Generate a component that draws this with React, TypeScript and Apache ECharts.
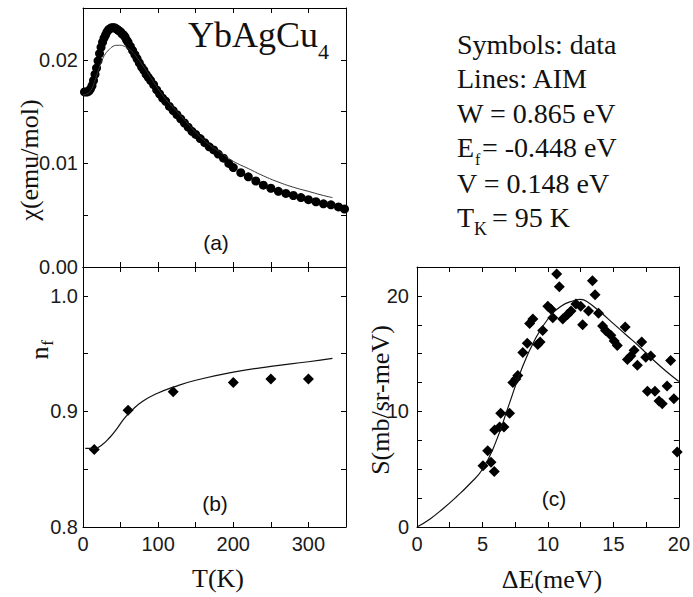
import React, { useEffect, useRef } from 'react';
import * as echarts from 'echarts';

// Panel (a): susceptibility data
const chiT = [2, 4, 6, 8, 10, 12, 14, 16, 18, 20, 22, 24, 26, 28, 30, 32, 34, 36, 38, 40, 42, 44, 46, 48, 50, 52, 54, 56, 58, 60, 63, 66, 69, 72, 75, 78, 81, 84, 87, 90, 94, 98, 102, 106, 110, 115, 120, 125, 130, 135, 140, 145, 150, 156, 162, 168, 174, 180, 187, 194, 200, 210, 220, 230, 240, 250, 260, 270, 280, 290, 300, 310, 320, 330, 340, 348];
const chiVal = [0.0169, 0.0169, 0.0169, 0.0170, 0.0172, 0.0175, 0.0180, 0.0186, 0.0192, 0.0199, 0.0206, 0.0212, 0.0217, 0.0221, 0.0224, 0.0227, 0.0229, 0.0230, 0.0231, 0.0231, 0.0231, 0.0230, 0.0229, 0.0228, 0.0227, 0.0225, 0.0224, 0.0222, 0.0219, 0.0217, 0.0213, 0.0209, 0.0205, 0.0201, 0.0197, 0.0193, 0.0190, 0.0186, 0.0183, 0.0180, 0.0176, 0.0171, 0.0167, 0.0163, 0.0160, 0.0155, 0.0151, 0.0147, 0.0143, 0.0139, 0.0135, 0.0131, 0.0128, 0.0124, 0.0120, 0.0116, 0.0113, 0.0109, 0.0105, 0.0100, 0.0096, 0.0091, 0.0087, 0.0083, 0.0079, 0.0076, 0.0073, 0.0071, 0.0069, 0.0067, 0.0065, 0.0063, 0.0061, 0.0060, 0.0058, 0.0056];
// Panel (a): AIM line
const chiLineT = [0, 5, 10, 15, 20, 25, 30, 35, 40, 45, 50, 55, 60, 65, 70, 80, 90, 100, 110, 120, 130, 140, 150, 160, 170, 180, 190, 200, 220, 240, 260, 280, 300, 320, 332];
const chiLineVal = [0.0166, 0.0167, 0.0170, 0.0178, 0.0189, 0.0199, 0.0206, 0.0210, 0.0213, 0.0214, 0.0214, 0.0213, 0.0211, 0.0208, 0.0204, 0.0194, 0.0183, 0.0172, 0.0162, 0.0154, 0.0146, 0.0138, 0.0130, 0.0123, 0.0117, 0.0112, 0.0107, 0.0102, 0.0095, 0.0088, 0.0082, 0.0077, 0.0073, 0.0069, 0.0067];

// Panel (b): f occupation
const nfT = [15, 60, 120, 200, 250, 300];
const nfVal = [0.867, 0.901, 0.917, 0.925, 0.928, 0.928];
const nfLineT = [3, 15, 25, 35, 45, 55, 65, 80, 100, 120, 150, 200, 250, 300, 332];
const nfLineVal = [0.868, 0.868, 0.871, 0.877, 0.885, 0.894, 0.901, 0.909, 0.916, 0.921, 0.927, 0.934, 0.939, 0.943, 0.946];

// Panel (c): neutron spectrum
const sE = [5.04, 5.4, 5.65, 5.9, 5.93, 6.31, 6.39, 6.64, 7.07, 7.32, 7.55, 7.7, 8.08, 8.42, 8.6, 8.85, 9.22, 9.4, 9.6, 9.99, 10.24, 10.37, 10.67, 10.87, 11.13, 11.5, 11.76, 12.14, 12.5, 12.65, 13.1, 13.4, 13.6, 13.86, 14.17, 14.4, 14.8, 15.06, 15.3, 15.9, 16.07, 16.33, 16.58, 16.83, 17.16, 17.47, 17.85, 17.6, 18.17, 18.48, 18.73, 19.1, 19.37, 19.62, 19.87];
const sVal = [5.3, 6.6, 5.6, 4.8, 8.4, 8.65, 9.85, 8.65, 9.85, 12.5, 12.8, 13.1, 15.1, 15.9, 17.6, 18.0, 15.8, 16.0, 17.0, 19.1, 18.85, 18.1, 21.9, 20.8, 18.0, 18.4, 18.7, 19.3, 19.1, 17.5, 18.7, 21.3, 20.1, 18.5, 17.4, 17.0, 16.6, 16.1, 15.7, 17.3, 14.5, 14.8, 15.3, 14.0, 16.0, 14.7, 14.8, 11.75, 11.75, 10.9, 10.66, 12.2, 14.4, 11.1, 6.5];
const sLineE = [0, 1, 2, 3, 4, 5, 6, 7, 8, 9, 10, 11, 12, 12.5, 13, 14, 15, 16, 17, 18, 19, 20];
const sLineVal = [0, 0.7, 1.6, 2.6, 3.7, 5.0, 7.3, 10.5, 13.7, 16.2, 18.0, 19.1, 19.6, 19.7, 19.5, 18.6, 17.6, 16.6, 15.6, 14.5, 13.5, 12.6];

// Tick label sets
const chiTicks = [0, 0.01, 0.02];
const nfTicks = [0.8, 0.9, 1.0];
const tTicks = [0, 100, 200, 300];
const eTicks = [0, 5, 10, 15, 20];
const sTicks = [0, 10, 20];

const pairs = (xs: number[], ys: number[]) => xs.map((x, i) => [x, ys[i]]);
const near = (v: number, list: number[]) => list.find((t) => Math.abs(t - v) < 1e-6);

const SANS = 'Liberation Sans';
const SERIF = 'Liberation Serif';
const INK = '#111';

const lineStyleAxis = { color: '#000', width: 1 };

function axis(opts: any) {
  return {
    type: 'value',
    axisLine: { show: true, onZero: false, lineStyle: lineStyleAxis },
    axisTick: { show: true, inside: true, length: 5, lineStyle: lineStyleAxis },
    splitLine: { show: false },
    ...opts,
  };
}

function lbl(list: number[], digits: number, margin: number) {
  return {
    show: true,
    margin,
    color: '#1a1a1a',
    fontFamily: SANS,
    fontSize: 20,
    formatter: (v: number) => {
      const t = near(v, list);
      return t === undefined ? '' : t.toFixed(digits);
    },
  };
}

const noLabel = { show: false };

function txt(text: string, x: number, y: number, size: number, family: string, align = 'left', rotation = 0) {
  return {
    type: 'text',
    x,
    y,
    rotation,
    silent: true,
    style: {
      text,
      x: 0,
      y: 0,
      fill: INK,
      fontSize: size,
      fontFamily: family,
      align,
      textAlign: align,
      verticalAlign: 'middle',
      textVerticalAlign: 'middle',
    },
  };
}

export default function App() {
  const ref = useRef<HTMLDivElement>(null);
  useEffect(() => {
    const chart = echarts.init(ref.current!, null, { renderer: 'svg' });
    const option: any = {
      animation: false,
      backgroundColor: '#fff',
      grid: [
        { left: 83, top: 8, width: 263, height: 259 },
        { left: 83, top: 267, width: 263, height: 260 },
        { left: 417, top: 267, width: 263, height: 260 },
      ],
      xAxis: [
        axis({ gridIndex: 0, position: 'bottom', min: 0, max: 350, interval: 50, axisLabel: noLabel }),
        axis({ gridIndex: 0, position: 'top', min: 0, max: 350, interval: 50, axisLabel: noLabel }),
        axis({ gridIndex: 1, position: 'bottom', min: 0, max: 350, interval: 50, axisLabel: lbl(tTicks, 0, 7) }),
        axis({ gridIndex: 1, position: 'top', min: 0, max: 350, interval: 50, axisLabel: noLabel }),
        axis({ gridIndex: 2, position: 'bottom', min: 0, max: 20, interval: 2.5, axisLabel: lbl(eTicks, 0, 7) }),
        axis({ gridIndex: 2, position: 'top', min: 0, max: 20, interval: 2.5, axisLabel: noLabel }),
      ],
      yAxis: [
        axis({ gridIndex: 0, position: 'left', min: 0, max: 0.025, interval: 0.005, axisLabel: lbl(chiTicks, 2, 5) }),
        axis({ gridIndex: 0, position: 'right', min: 0, max: 0.025, interval: 0.005, axisLabel: noLabel }),
        axis({ gridIndex: 1, position: 'left', min: 0.8, max: 1.025, interval: 0.05, axisLabel: lbl(nfTicks, 1, 5) }),
        axis({ gridIndex: 1, position: 'right', min: 0.8, max: 1.025, interval: 0.05, axisLabel: noLabel }),
        axis({ gridIndex: 2, position: 'left', min: 0, max: 22.5, interval: 2.5, axisLabel: lbl(sTicks, 0, 8) }),
        axis({ gridIndex: 2, position: 'right', min: 0, max: 22.5, interval: 2.5, axisLabel: noLabel }),
      ],
      series: [
        {
          type: 'scatter', xAxisIndex: 0, yAxisIndex: 0, symbol: 'circle', symbolSize: 9,
          itemStyle: { color: '#000', opacity: 1 }, data: pairs(chiT, chiVal),
        },
        {
          type: 'line', xAxisIndex: 0, yAxisIndex: 0, showSymbol: false, smooth: 0.5,
          lineStyle: { color: '#333', width: 1 }, data: pairs(chiLineT, chiLineVal), z: 3,
        },
        {
          type: 'scatter', xAxisIndex: 2, yAxisIndex: 2, symbol: 'diamond', symbolSize: 11,
          itemStyle: { color: '#000', opacity: 1 }, data: pairs(nfT, nfVal),
        },
        {
          type: 'line', xAxisIndex: 2, yAxisIndex: 2, showSymbol: false, smooth: 0.5,
          lineStyle: { color: '#111', width: 1.2 }, data: pairs(nfLineT, nfLineVal),
        },
        {
          type: 'scatter', xAxisIndex: 4, yAxisIndex: 4, symbol: 'diamond', symbolSize: 11,
          itemStyle: { color: '#000', opacity: 1 }, data: pairs(sE, sVal),
        },
        {
          type: 'line', xAxisIndex: 4, yAxisIndex: 4, showSymbol: false, smooth: 0.5,
          lineStyle: { color: '#111', width: 1.2 }, data: pairs(sLineE, sLineVal),
        },
      ],
      graphic: [
        // compound name
        txt('YbAgCu', 188, 35, 36, SERIF),
        txt('4', 318, 51, 22, SERIF),
        // info block
        txt('Symbols: data', 457, 44, 28, SERIF),
        txt('Lines: AIM', 457, 78, 28, SERIF),
        txt('W = 0.865 eV', 457, 113, 28, SERIF),
        txt('E', 457, 147, 28, SERIF),
        txt('f', 475, 159, 16, SERIF),
        txt('= -0.448 eV', 482, 147, 28, SERIF),
        txt('V = 0.148 eV', 457, 183, 28, SERIF),
        txt('T', 457, 217, 28, SERIF),
        txt('K', 474, 229, 18, SERIF),
        txt('= 95 K', 492, 217, 28, SERIF),
        // panel labels
        txt('(a)', 216, 242, 21, SANS, 'center'),
        txt('(b)', 215, 503, 21, SANS, 'center'),
        txt('(c)', 554, 498, 21, SANS, 'center'),
        // axis titles
        txt('χ(emu/mol)', 29, 160, 26, SERIF, 'center', Math.PI / 2),
        txt('n', 39, 353, 26, SERIF, 'center', Math.PI / 2),
        txt('f', 47, 343, 17, SERIF, 'center', Math.PI / 2),
        txt('T(K)', 218, 578, 26, SERIF, 'center'),
        txt('S(mb/sr-meV)', 380, 400, 26, SERIF, 'center', Math.PI / 2),
        txt('ΔE(meV)', 552, 579, 26, SERIF, 'center'),
      ],
    };
    chart.setOption(option);
    return () => chart.dispose();
  }, []);
  return (
    <div
      ref={ref}
      style={{ position: 'fixed', left: 0, top: 0, width: 693, height: 597, background: '#fff' }}
    />
  );
}
